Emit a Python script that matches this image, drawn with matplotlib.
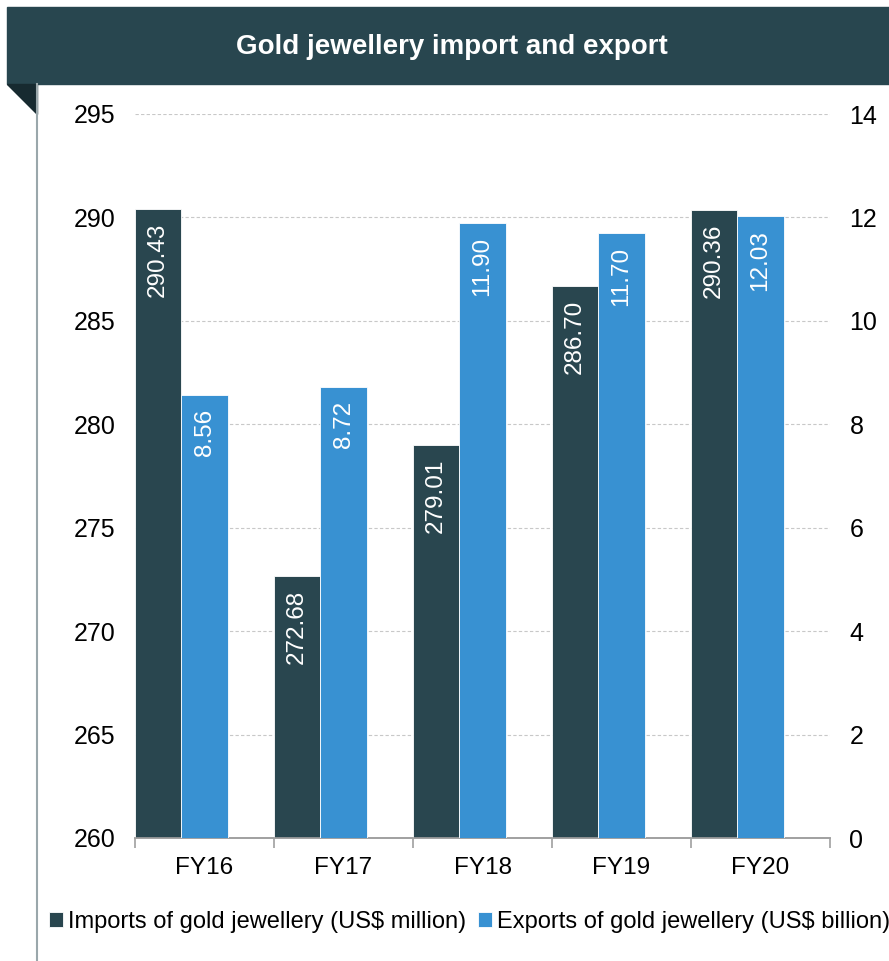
import matplotlib

matplotlib.use("Agg")
import matplotlib.pyplot as plt
from matplotlib.patches import Polygon, Rectangle
from matplotlib.lines import Line2D
import numpy as np

plt.rcParams["font.family"] = ["Liberation Sans", "DejaVu Sans"]

years = ["FY16", "FY17", "FY18", "FY19", "FY20"]
imports_musd = [290.43, 272.68, 279.01, 286.70, 290.36]
exports_busd = [8.56, 8.72, 11.90, 11.70, 12.03]
left_ticks = [260, 265, 270, 275, 280, 285, 290, 295]
right_ticks = [0, 2, 4, 6, 8, 10, 12, 14]

DARK = "#29464f"
BLUE = "#3891d2"
BANNER = "#28464f"

W, H = 889, 961
fig = plt.figure(figsize=(W / 100, H / 100), dpi=100)
fig.patch.set_facecolor("white")

# header banner, fold and left rule
fig.patches.append(Rectangle((7 / W, 1 - 84 / H), 1 - 7 / W, 77 / H,
                             transform=fig.transFigure, color=BANNER, zorder=0))
fig.patches.append(Polygon([(7 / W, 1 - 84 / H), (37 / W, 1 - 84 / H), (37 / W, 1 - 114 / H)],
                           closed=True, transform=fig.transFigure, color="#172a30", zorder=0))
fig.lines.append(Line2D([37 / W, 37 / W], [0, 1 - 84 / H], transform=fig.transFigure,
                        color="#9aa7ab", linewidth=1.5))
fig.text(0.508, 1 - 47 / H, "Gold jewellery import and export", ha="center", va="center",
         fontsize=20, fontweight="bold", color="white")

ax = fig.add_axes([135 / W, 1 - 838 / H, 695 / W, 724 / H])
ax2 = ax.twinx()
x = np.arange(len(years))
w = 1 / 3

b1 = ax.bar(x, imports_musd, width=w, align="edge", color=DARK, edgecolor="white",
            linewidth=0.6, zorder=3, label="Imports of gold jewellery (US$ million)")
b2 = ax2.bar(x + w, exports_busd, width=w, align="edge", color=BLUE, edgecolor="white",
             linewidth=0.6, zorder=3, label="Exports of gold jewellery (US$ billion)")

ax.set_xlim(0, len(years))
ax.set_ylim(260, 295)
ax2.set_ylim(0, 14)
ax.set_yticks(left_ticks)
ax2.set_yticks(right_ticks)
ax.set_yticklabels([str(t) for t in left_ticks])
ax2.set_yticklabels([str(t) for t in right_ticks])
for t in left_ticks[1:]:
    ax.axhline(t, color="#c8c8c8", linewidth=0.8, linestyle=(0, (3, 2)), zorder=1)

ax.set_xticks(x + 0.5)
ax.set_xticklabels(years)
ax.set_xticks(np.arange(len(years) + 1), minor=True)
ax.tick_params(axis="x", which="major", length=0, labelsize=17.5, pad=14)
ax.tick_params(axis="x", which="minor", length=7, width=1.2, color="#a0a0a0")
ax.tick_params(axis="y", length=0, labelsize=18, pad=14)
ax2.tick_params(axis="y", length=0, labelsize=18, pad=14)

for a in (ax, ax2):
    for side in ("top", "left", "right"):
        a.spines[side].set_visible(False)
    a.spines["bottom"].set_color("#a0a0a0")
    a.spines["bottom"].set_linewidth(1.2)

# value labels inside bar tops
for xi, v in zip(x, imports_musd):
    ax.annotate(f"{v:.2f}", (xi + w / 2, v), xytext=(0, -10), textcoords="offset points",
                rotation=90, ha="center", va="top", color="white", fontsize=17.5, zorder=4)
for xi, v in zip(x, exports_busd):
    ax2.annotate(f"{v:.2f}", (xi + 1.5 * w, v), xytext=(0, -10), textcoords="offset points",
                 rotation=90, ha="center", va="top", color="white", fontsize=17.5, zorder=4)

fig.legend(handles=[b1, b2], loc="center left", bbox_to_anchor=(49 / W, 1 - 922 / H),
           ncol=2, frameon=False, fontsize=17, handlelength=0.6, handleheight=0.6,
           handletextpad=0.2, columnspacing=0.5, borderaxespad=0, borderpad=0)

fig.savefig("out.png", dpi=100, facecolor="white")
